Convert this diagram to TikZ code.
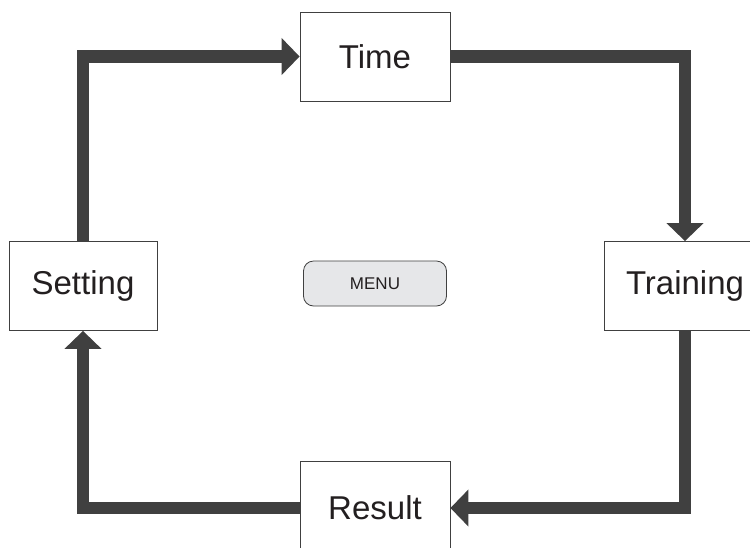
\documentclass[tikz,border=0pt]{standalone}
\usepackage{fontspec}
\setmainfont{Liberation Sans}
\usepackage{tikz}
\usetikzlibrary{arrows.meta}
\definecolor{flowgray}{HTML}{404040}
\definecolor{menufill}{HTML}{E6E7E9}
\definecolor{inkgray}{HTML}{231F20}

\begin{document}
\begin{tikzpicture}[
  x=1pt, y=-1pt,
  stage/.style={draw=flowgray, line width=0.8pt, fill=white, text=inkgray,
    minimum width=150pt, minimum height=89pt, inner sep=0pt,
    font=\fontsize{33}{36}\selectfont},
  menubox/.style={draw=flowgray, line width=0.8pt, fill=menufill, text=inkgray,
    rounded corners=10pt, minimum width=143pt, minimum height=45pt, inner sep=0pt,
    font=\fontsize{17}{20}\selectfont},
  flow/.style={draw=flowgray, line width=12.5pt,
    -{Triangle[length=18pt,width=36pt]}},
]
\clip (0,0) rectangle (750,547);
\fill[white] (0,0) rectangle (750,547);

\node[stage] (Time) at (375,56.5) {Time};
\node[stage, minimum width=148pt] (Setting) at (83,286) {Setting};
\node[stage, minimum width=162pt] (Training) at (685,286) {Training};
\node[stage, minimum height=94pt] (Result) at (375,508) {Result};
\node[menubox] (Menu) at (375,283.5) {MENU};

\draw[flow] (Setting.north) |- (Time.west);
\draw[flow] (Time.east) -| (Training.north);
\draw[flow] (Training.south) |- (Result.east);
\draw[flow] (Result.west) -| (Setting.south);
\end{tikzpicture}
\end{document}
